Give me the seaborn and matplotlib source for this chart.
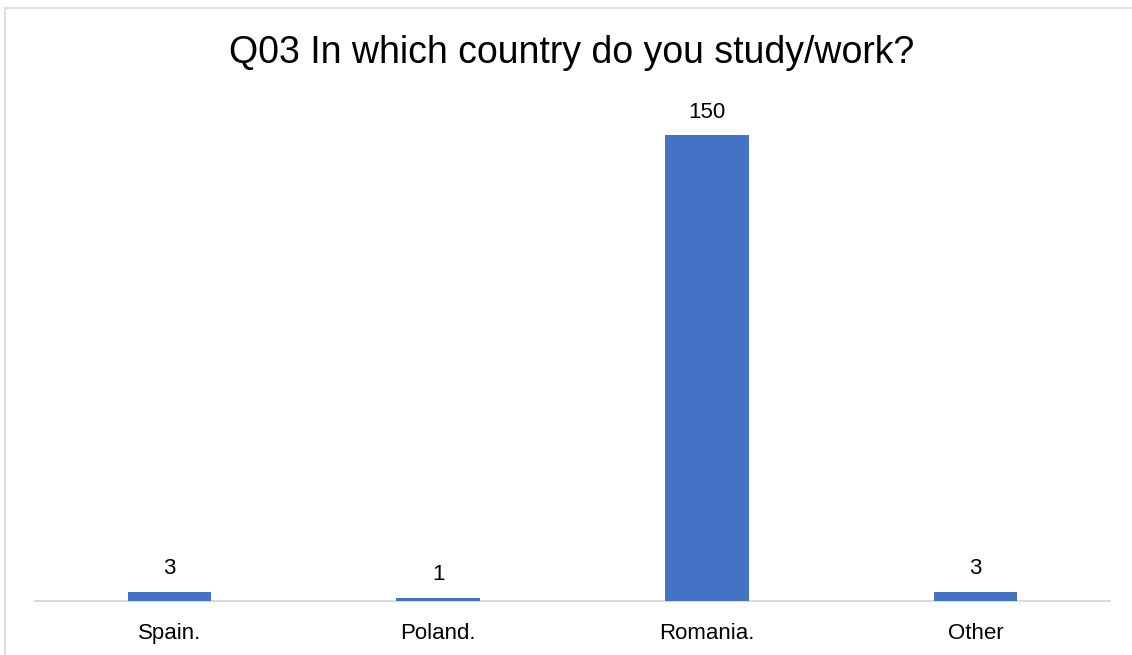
import matplotlib
matplotlib.use("Agg")
import matplotlib.pyplot as plt
from matplotlib.patches import Rectangle
import seaborn as sns
import pandas as pd

# Survey answers: country of study / work
countries = ["Spain.", "Poland.", "Romania.", "Other"]
counts = [3, 1, 150, 3]
title = "Q03 In which country do you study/work?"

bar_color = "#4472C4"
grid_gray = "#D9D9D9"

sns.set_theme(style="white")
plt.rcParams["font.family"] = ["Liberation Sans", "DejaVu Sans"]

df = pd.DataFrame({"country": countries, "count": counts})

W, H = 1132, 655
fig = plt.figure(figsize=(W / 100, H / 100), dpi=100)
fig.patch.set_facecolor("white")

# plot area: baseline at y=601px, spanning x=35..1110px
left, right = 35 / W, 1110 / W
bottom = 1 - 601 / H
top = 1 - 104 / H
ax = fig.add_axes([left, bottom, right - left, top - bottom])

sns.barplot(data=df, x="country", y="count", color=bar_color,
            width=0.31, saturation=1, linewidth=0, zorder=3, ax=ax)

ax.set_ylim(0, 160)
ax.set_xlim(-0.5, len(countries) - 0.5)
ax.set_xlabel("")
ax.set_ylabel("")
ax.set_yticks([])
for side in ["top", "right", "left"]:
    ax.spines[side].set_visible(False)
ax.spines["bottom"].set_color(grid_gray)
ax.spines["bottom"].set_linewidth(1.4)
ax.spines["bottom"].set_zorder(1)
ax.tick_params(axis="x", length=0, pad=16, labelsize=16, colors="#000000")
ax.set_facecolor("none")

for cont in ax.containers:
    ax.bar_label(cont, labels=[str(v) for v in counts], padding=9,
                 fontsize=16, color="#000000")

fig.text(572 / W, 1 - 63 / H, title, ha="center", va="baseline",
         fontsize=27, color="#000000")

# chart frame (left and top edges visible)
fig.patches.append(Rectangle((5 / W, -0.1), 1.2, 1 - 8 / H + 0.1,
                             transform=fig.transFigure, fill=False,
                             edgecolor=grid_gray, linewidth=1.2))

fig.savefig("out.png", dpi=100, facecolor="white")
